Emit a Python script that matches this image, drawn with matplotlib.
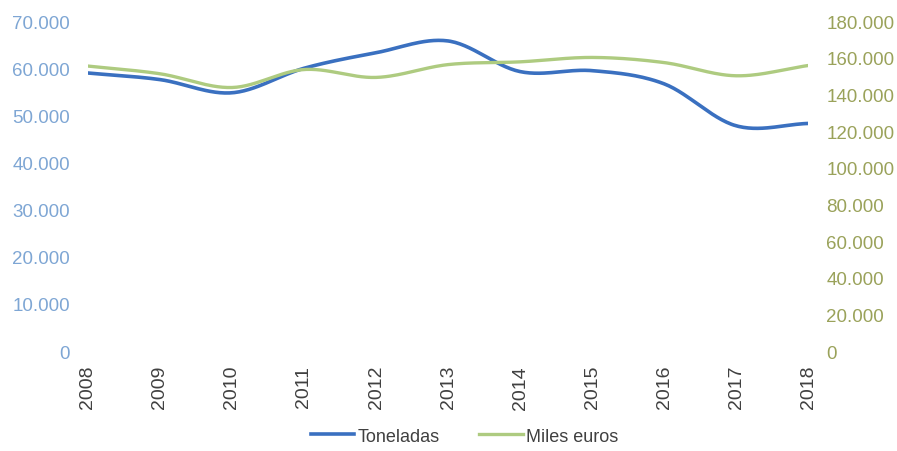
import numpy as np
import matplotlib
matplotlib.use("Agg")
import matplotlib.pyplot as plt
from matplotlib.ticker import FuncFormatter
from matplotlib.lines import Line2D

years = [2008, 2009, 2010, 2011, 2012, 2013, 2014, 2015, 2016, 2017, 2018]
toneladas = [59000, 57600, 54800, 60000, 63300, 65800, 59300, 59500, 56700, 47800, 48300]
miles_euros = [155500, 151300, 143800, 153600, 149300, 156300, 157800, 160200, 157400, 150200, 155800]
left_ticks = [0, 10000, 20000, 30000, 40000, 50000, 60000, 70000]
right_ticks = [0, 20000, 40000, 60000, 80000, 100000, 120000, 140000, 160000, 180000]

plt.rcParams['font.family'] = ['Liberation Sans', 'DejaVu Sans']


def smooth(x, y, n=30):
    # Catmull-Rom style curve through the data points (render only)
    x = np.asarray(x, float); y = np.asarray(y, float)
    px = np.concatenate([[2 * x[0] - x[1]], x, [2 * x[-1] - x[-2]]])
    py = np.concatenate([[2 * y[0] - y[1]], y, [2 * y[-1] - y[-2]]])
    xs, ys = [], []
    for i in range(1, len(px) - 2):
        t = np.linspace(0, 1, n, endpoint=False)
        for arr, out in ((px, xs), (py, ys)):
            p0, p1, p2, p3 = arr[i - 1], arr[i], arr[i + 1], arr[i + 2]
            out.extend(0.5 * ((2 * p1) + (-p0 + p2) * t + (2 * p0 - 5 * p1 + 4 * p2 - p3) * t ** 2
                              + (-p0 + 3 * p1 - 3 * p2 + p3) * t ** 3))
    xs.append(x[-1]); ys.append(y[-1])
    return np.array(xs), np.array(ys)


fmt = FuncFormatter(lambda v, p: f"{int(v):,}".replace(",", "."))

fig = plt.figure(figsize=(8.97, 4.52), dpi=100)
ax = fig.add_axes([0.098, 0.221, 0.803, 0.730])
ax2 = ax.twinx()

blue = '#3a70c0'
green = '#aecb80'

sx, sy = smooth(years, toneladas)
ax.plot(sx, sy, color=blue, lw=2.6, solid_capstyle='round', zorder=3)
sx2, sy2 = smooth(years, miles_euros)
ax2.plot(sx2, sy2, color=green, lw=2.4, solid_capstyle='round', zorder=2)

ax.set_xlim(years[0], years[-1])
ax.set_ylim(0, 70000)
ax2.set_ylim(0, 180000)
ax.set_yticks(left_ticks)
ax2.set_yticks(right_ticks)
ax.yaxis.set_major_formatter(fmt)
ax2.yaxis.set_major_formatter(fmt)
ax.set_xticks(years)
ax.set_xticklabels([str(y) for y in years], rotation=90, fontsize=14, color='#404040')

ax.tick_params(axis='y', length=0, labelsize=13.5, labelcolor='#7ea6d4', pad=13)
ax2.tick_params(axis='y', length=0, labelsize=13.5, labelcolor='#9aa25a', pad=13)
ax.tick_params(axis='x', length=0, pad=10)

for a in (ax, ax2):
    for s in a.spines.values():
        s.set_visible(False)

handles = [Line2D([], [], color=blue, lw=2.6), Line2D([], [], color=green, lw=2.4)]
fig.legend(handles, ['Toneladas', 'Miles euros'], loc='center', bbox_to_anchor=(0.518, 0.033),
           ncol=2, frameon=False, handlelength=2.4, handletextpad=0.2,
           columnspacing=2.2, labelcolor='#404040', prop={'size': 13})

fig.savefig('out.png', dpi=100)
